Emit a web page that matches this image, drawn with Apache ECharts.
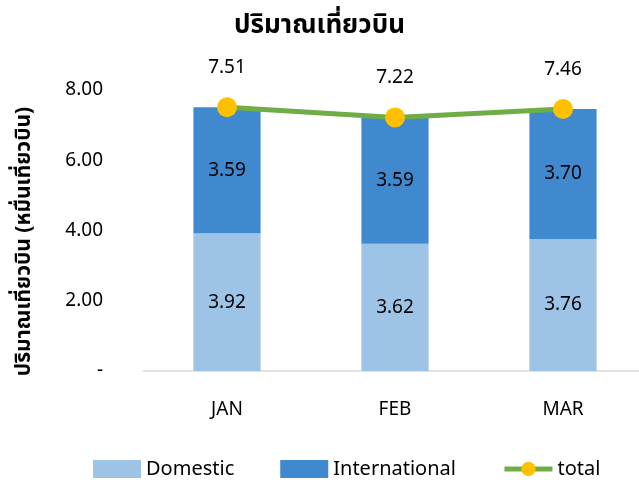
<!DOCTYPE html>
<html>
<head>
<meta charset="utf-8">
<script src="https://cdn.jsdelivr.net/npm/echarts@6/dist/echarts.min.js"></script>
<style>
  html, body { margin: 0; padding: 0; background: #fff; }
  #main { width: 639px; height: 480px; }
</style>
</head>
<body>
<div id="main"></div>
<script>
// data
let months = ['JAN', 'FEB', 'MAR'];
let domestic = [3.92, 3.62, 3.76];
let international = [3.59, 3.59, 3.70];
let total = [7.51, 7.22, 7.46];

let font = '"Noto Sans", "Noto Sans Thai", sans-serif';

function fmt(p) {
    return p.value.toFixed(2);
}

let option = {
    backgroundColor: '#fff',
    title: {
        text: 'ปริมาณเที่ยวบิน',
        left: 'center',
        top: 8,
        textStyle: { fontSize: 26, fontWeight: 'bold', color: '#000', fontFamily: font }
    },
    legend: {
        bottom: -4,
        left: 88,
        itemGap: 46,
        itemWidth: 48,
        itemHeight: 18,
        textStyle: { fontSize: 20, color: '#000', fontFamily: font },
        data: [
            { name: 'Domestic', icon: 'rect' },
            { name: 'International', icon: 'rect' },
            { name: 'total', lineStyle: { width: 5, color: '#70ad47' } }
        ]
    },
    grid: {
        left: 143,
        right: -8,
        top: 90,
        bottom: 109,
        outerBoundsMode: 'none'
    },
    xAxis: {
        type: 'category',
        data: months,
        axisLine: { lineStyle: { color: '#d9d9d9', width: 1.5 } },
        axisTick: { show: false },
        axisLabel: { fontSize: 19, color: '#000', margin: 29, fontFamily: font }
    },
    yAxis: {
        type: 'value',
        min: 0,
        max: 8,
        interval: 2,
        name: 'ปริมาณเที่ยวบิน (หมื่นเที่ยวบิน)',
        nameLocation: 'middle',
        nameGap: 108,
        nameTextStyle: { fontSize: 21, fontWeight: 'bold', color: '#000', fontFamily: font, padding: [0, 22, 0, 0] },
        splitLine: { show: false },
        axisLine: { show: false },
        axisTick: { show: false },
        axisLabel: {
            fontSize: 19,
            color: '#000',
            margin: 40,
            fontFamily: font,
            formatter: function(v) {
                return v === 0 ? '-' : v.toFixed(2);
            }
        }
    },
    series: [{
            name: 'Domestic',
            type: 'bar',
            stack: 'a',
            barWidth: '40%',
            data: domestic,
            itemStyle: { color: '#9dc3e6' },
            label: { show: true, position: 'inside', fontSize: 19, color: '#000', fontFamily: font, formatter: fmt }
        },
        {
            name: 'International',
            type: 'bar',
            stack: 'a',
            data: international,
            itemStyle: { color: '#4189ce' },
            label: { show: true, position: 'inside', fontSize: 19, color: '#000', fontFamily: font, formatter: fmt }
        },
        {
            name: 'total',
            type: 'line',
            data: total,
            symbol: 'circle',
            symbolSize: 20,
            lineStyle: { color: '#70ad47', width: 5 },
            itemStyle: { color: '#ffc000' },
            label: { show: true, position: 'top', distance: 20, fontSize: 19, color: '#000', fontFamily: font, formatter: fmt },
            z: 5
        }
    ]
};

let chart = echarts.init(document.getElementById('main'));
chart.setOption(option);
</script>
</body>
</html>
